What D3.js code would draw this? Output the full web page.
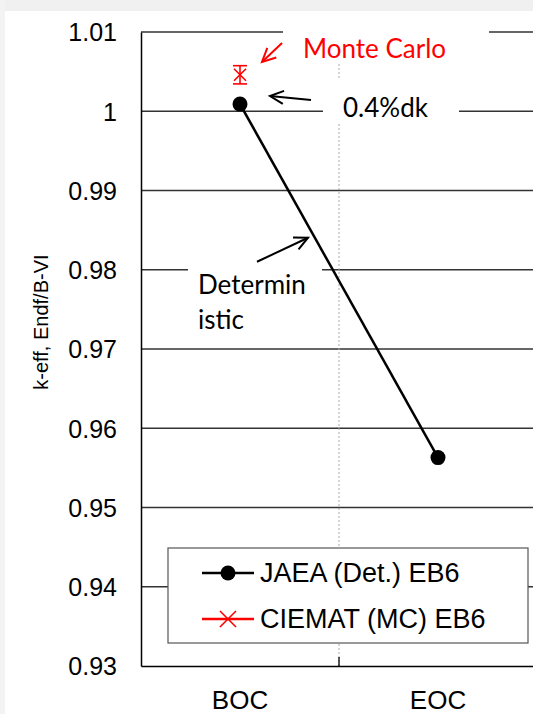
<!DOCTYPE html>
<html>
<head>
<meta charset="utf-8">
<script src="https://cdn.jsdelivr.net/npm/d3@7"></script>
<style>
  body { margin: 0; background: #fff; }
  svg { display: block; }
  .tick-label { font-family: "Liberation Sans", Arial, sans-serif; font-size: 25px; fill: #000; }
  .note { font-family: Lato, "Open Sans", sans-serif; font-size: 26px; }
  .legend-text { font-family: "Liberation Sans", Arial, sans-serif; font-size: 27px; fill: #000; }
</style>
</head>
<body>
<div id="chart"></div>
<script>
/* CONSTANTS AND DATA */
const width = 533,
  height = 714,
  margin = { top: 32, bottom: 48, left: 141, right: -4 };

const categories = ["BOC", "EOC"];
const jaeaValues = [1.0009, 0.9563];          // JAEA (Det.) EB6
const ciematValues = [1.0046];                // CIEMAT (MC) EB6, BOC only
const ciematErrors = [0.00115];
const yTicks = [0.93, 0.94, 0.95, 0.96, 0.97, 0.98, 0.99, 1.0, 1.01];
const yTickLabels = ["0.93", "0.94", "0.95", "0.96", "0.97", "0.98", "0.99", "1", "1.01"];
const legendLabels = ["JAEA (Det.) EB6", "CIEMAT (MC) EB6"];

// scales
const xScale = d3.scaleBand()
  .domain(categories)
  .range([margin.left, width - margin.right])
  .padding(0);

const yScale = d3.scaleLinear()
  .domain([0.93, 1.01])
  .range([height - margin.bottom, margin.top]);

const svg = d3.select("#chart")
  .append("svg")
  .attr("width", width)
  .attr("height", height);

// slide background strips
svg.append("rect").attr("x", 0).attr("y", 0).attr("width", width).attr("height", 11).attr("fill", "#f0f0f0");
svg.append("rect").attr("x", 0).attr("y", 0).attr("width", 5).attr("height", height).attr("fill", "#f3f3f3");

// + GRIDLINES
svg.append("g")
  .selectAll("line")
  .data(yTicks.slice(1))
  .join("line")
  .attr("x1", margin.left)
  .attr("x2", width)
  .attr("y1", d => yScale(d))
  .attr("y2", d => yScale(d))
  .attr("stroke", "#333")
  .attr("stroke-width", 1.3);

// vertical dotted gridline between categories
svg.append("line")
  .attr("x1", xScale("EOC"))
  .attr("x2", xScale("EOC"))
  .attr("y1", yScale(1.01))
  .attr("y2", yScale(0.93))
  .attr("stroke", "#aaa")
  .attr("stroke-width", 1)
  .attr("stroke-dasharray", "2,2");

// + AXES
const yAxis = d3.axisLeft(yScale).tickValues(yTicks).tickSize(0).tickFormat((d, i) => yTickLabels[i]);
const gy = svg.append("g")
  .attr("transform", `translate(${margin.left},0)`)
  .call(yAxis);
gy.select(".domain").attr("stroke", "#000").attr("stroke-width", 1.5);
gy.selectAll("text").attr("class", "tick-label").attr("x", -24).attr("dy", "0.35em");

const xAxis = d3.axisBottom(xScale).tickSize(0);
const gx = svg.append("g")
  .attr("transform", `translate(0,${yScale(0.93)})`)
  .call(xAxis);
gx.select(".domain").attr("stroke", "#000").attr("stroke-width", 1.5);
gx.selectAll("text").attr("class", "tick-label").style("font-size", "26px").attr("y", 43).attr("dy", 0);

// inner tick at category boundary
svg.append("line")
  .attr("x1", xScale("EOC")).attr("x2", xScale("EOC"))
  .attr("y1", yScale(0.93) - 9).attr("y2", yScale(0.93))
  .attr("stroke", "#000").attr("stroke-width", 1.3);

// y axis title
svg.append("text")
  .attr("transform", `translate(48,${yScale(0.9734)}) rotate(-90)`)
  .attr("text-anchor", "middle")
  .attr("font-family", "Liberation Sans, Arial, sans-serif")
  .attr("font-size", 20)
  .text("k-eff, Endf/B-VI");

// + ANNOTATION BOXES (white, masking gridlines)
const cx = d => xScale(d) + xScale.bandwidth() / 2;
const boxes = [
  { x: cx("BOC") + 43, y: 16, w: 206, h: 47 },
  { x: cx("BOC") + 83, y: 80, w: 136, h: 42 },
  { x: cx("BOC") - 52, y: yScale(0.98) - 4, w: 134, h: 78 }
];
svg.append("g").selectAll("rect").data(boxes).join("rect")
  .attr("x", d => d.x).attr("y", d => d.y).attr("width", d => d.w).attr("height", d => d.h)
  .attr("fill", "#fff");

svg.append("text").attr("class", "note").attr("fill", "#ff0000")
  .attr("x", cx("BOC") + 63).attr("y", 58).text("Monte Carlo");
svg.append("text").attr("class", "note").attr("fill", "#000")
  .attr("x", cx("BOC") + 103).attr("y", 117).text("0.4%dk");
const det = svg.append("text").attr("class", "note").attr("fill", "#000");
det.append("tspan").attr("x", cx("BOC") - 42).attr("y", yScale(0.98) + 24).text("Determin");
det.append("tspan").attr("x", cx("BOC") - 42).attr("y", yScale(0.98) + 59).text("istic");

// arrows
function arrow(x1, y1, x2, y2, color) {
  const a = Math.atan2(y2 - y1, x2 - x1), len = 15, spread = 0.45;
  const g = svg.append("g").attr("stroke", color).attr("stroke-width", 2).attr("fill", "none");
  g.append("line").attr("x1", x1).attr("y1", y1).attr("x2", x2).attr("y2", y2);
  g.append("path").attr("d",
    `M${x2 - len * Math.cos(a - spread)},${y2 - len * Math.sin(a - spread)}L${x2},${y2}L${x2 - len * Math.cos(a + spread)},${y2 - len * Math.sin(a + spread)}`);
}
arrow(cx("BOC") + 42, 43, cx("BOC") + 22, 62, "#ff0000");
arrow(cx("BOC") + 71, 100, cx("BOC") + 30, 96, "#000");
arrow(cx("BOC") + 17, yScale(0.98) - 8, cx("BOC") + 68, yScale(0.98) - 32, "#000");

// + JAEA SERIES
const line = d3.line().x((d, i) => cx(categories[i])).y(d => yScale(d));
svg.append("path")
  .datum(jaeaValues)
  .attr("d", line)
  .attr("fill", "none")
  .attr("stroke", "#000")
  .attr("stroke-width", 2.5);
svg.append("g").selectAll("circle")
  .data(jaeaValues)
  .join("circle")
  .attr("cx", (d, i) => cx(categories[i]))
  .attr("cy", d => yScale(d))
  .attr("r", 7.5)
  .attr("fill", "#000");

// + CIEMAT SERIES with error bars
const mc = svg.append("g").attr("stroke", "#ff0000").attr("stroke-width", 1.6).attr("fill", "none");
ciematValues.forEach((v, i) => {
  const x = cx(categories[i]), y = yScale(v);
  const yt = yScale(v + ciematErrors[i]), yb = yScale(v - ciematErrors[i]);
  mc.append("line").attr("x1", x).attr("x2", x).attr("y1", yt).attr("y2", yb);
  mc.append("line").attr("x1", x - 7).attr("x2", x + 7).attr("y1", yt).attr("y2", yt);
  mc.append("line").attr("x1", x - 7).attr("x2", x + 7).attr("y1", yb).attr("y2", yb);
  mc.append("path").attr("d", `M${x - 6},${y - 6}L${x + 6},${y + 6}M${x - 6},${y + 6}L${x + 6},${y - 6}`);
});

// + LEGEND
const legend = svg.append("g").attr("transform", "translate(168,548)");
legend.append("rect").attr("width", 360).attr("height", 95)
  .attr("fill", "#fff").attr("stroke", "#555").attr("stroke-width", 1.2);
const rows = legend.selectAll("g.row").data(legendLabels).join("g")
  .attr("class", "row")
  .attr("transform", (d, i) => `translate(0,${25 + i * 46})`);
rows.append("line").attr("x1", 34).attr("x2", 86).attr("y1", 0).attr("y2", 0)
  .attr("stroke", (d, i) => i === 0 ? "#000" : "#ff0000").attr("stroke-width", 2.5);
rows.filter((d, i) => i === 0).append("circle").attr("cx", 60).attr("cy", 0).attr("r", 7.5).attr("fill", "#000");
rows.filter((d, i) => i === 1).append("path")
  .attr("d", "M52,-8L68,8M52,8L68,-8").attr("stroke", "#ff0000").attr("stroke-width", 1.6);
rows.append("text").attr("class", "legend-text").attr("x", 92).attr("y", 9).text(d => d);
</script>
</body>
</html>
